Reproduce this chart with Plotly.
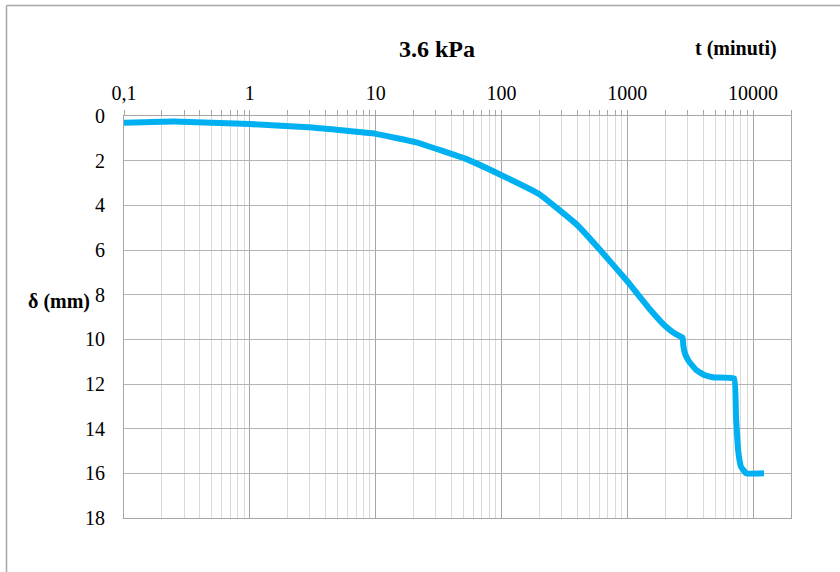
import numpy as np
import plotly.graph_objects as go

# Settlement vs time (log scale) under 3.6 kPa
t_min = [0.1, 0.25, 1, 3.15, 10, 21, 52, 100, 200, 400, 608, 1000, 1510,
         2000, 2400, 2750, 2790, 2880, 3100, 3530, 4100, 4900, 7060,
         7300, 7600, 8000, 8800, 12200]
delta_mm = [0.3, 0.25, 0.36, 0.52, 0.8, 1.18, 1.92, 2.65, 3.5, 4.88, 6.0, 7.4,
            8.65, 9.4, 9.75, 9.92, 10.3, 10.65, 11.0, 11.37, 11.6, 11.71, 11.75,
            13.4, 14.96, 15.7, 16.0, 16.0]

x_major = [0.1, 1, 10, 100, 1000, 10000]
x_major_text = ["0,1", "1", "10", "100", "1000", "10000"]
x_minor = [m * 10.0 ** e for e in range(-1, 4) for m in range(2, 10)] + [20000]
y_ticks = list(range(0, 20, 2))

serif = "Liberation Serif, Times New Roman, serif"
grid_major = "#a6a6a6"
grid_minor = "#d9d9d9"

fig = go.Figure()
fig.add_trace(go.Scatter(
    x=t_min, y=delta_mm, mode="lines",
    line=dict(color="#00b0f0", width=6, shape="spline", smoothing=0.3),
    hoverinfo="skip", showlegend=False,
))

fig.update_layout(
    width=840, height=572,
    margin=dict(l=124, r=49, t=116, b=54),
    paper_bgcolor="white", plot_bgcolor="white",
    font=dict(family=serif, size=20, color="black"),
    xaxis=dict(
        type="log", side="top",
        range=[-1, np.log10(20000)],
        tickmode="array", tickvals=x_major, ticktext=x_major_text,
        ticks="outside", ticklen=5, tickcolor=grid_major,
        ticklabelstandoff=2,
        showgrid=True, gridcolor=grid_major, gridwidth=1,
        showline=True, linecolor=grid_major, linewidth=1, mirror=True,
        minor=dict(tickmode="array", tickvals=x_minor, ticks="outside",
                   ticklen=5, tickcolor=grid_major,
                   showgrid=True, gridcolor=grid_minor, gridwidth=1),
        zeroline=False,
        tickfont=dict(family=serif, size=20),
    ),
    yaxis=dict(
        range=[18, 0],
        tickmode="array", tickvals=y_ticks,
        ticks="", ticklabelstandoff=14,
        showgrid=True, gridcolor="#b4b4b4", gridwidth=1,
        showline=True, linecolor=grid_major, linewidth=1, mirror=True,
        zeroline=False,
        tickfont=dict(family=serif, size=20),
    ),
)

fig.add_annotation(text="<b>3.6 kPa</b>", xref="paper", yref="paper",
                   x=(437 - 124) / 667, y=(518 - 49) / 402,
                   xanchor="center", yanchor="middle",
                   showarrow=False, font=dict(family=serif, size=24))
fig.add_annotation(text="<b>t (minuti)</b>", xref="paper", yref="paper",
                   x=(736 - 124) / 667, y=(518 - 49) / 402,
                   xanchor="center", yanchor="middle",
                   showarrow=False, font=dict(family=serif, size=20))
fig.add_annotation(text="<b>δ (mm)</b>", xref="paper", yref="paper",
                   x=(59 - 124) / 667, y=(518 - 301) / 402,
                   xanchor="center", yanchor="middle",
                   showarrow=False, font=dict(family=serif, size=20))

# chart frame (left and top edges; the rest falls outside the page)
frame_left = (6.5 - 124) / 667
frame_top = (518 - 5.5) / 402
fig.add_shape(type="line", xref="paper", yref="paper",
              x0=frame_left, x1=frame_left, y0=-0.3, y1=frame_top,
              line=dict(color="#a6a6a6", width=1.5))
fig.add_shape(type="line", xref="paper", yref="paper",
              x0=frame_left, x1=1.2, y0=frame_top, y1=frame_top,
              line=dict(color="#a6a6a6", width=1.5))

fig.write_html("out.html")
